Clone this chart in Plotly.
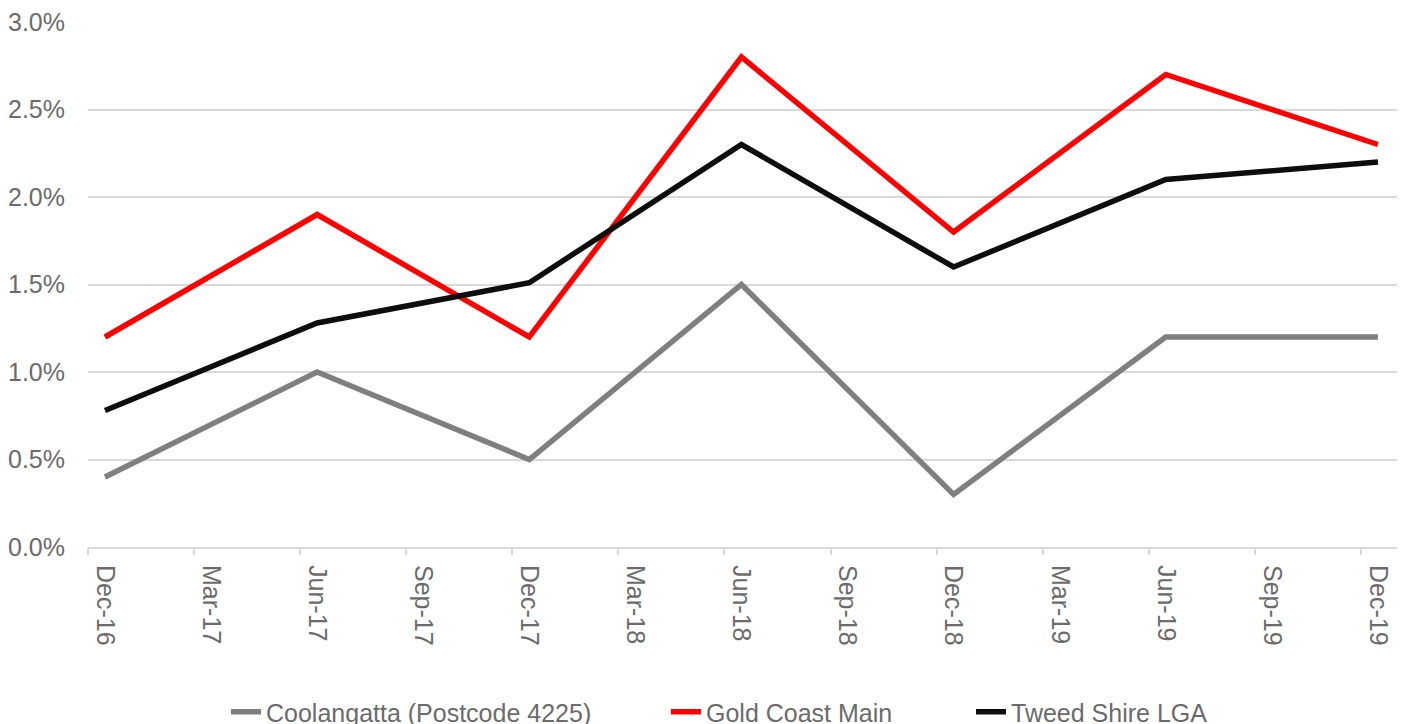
import plotly.graph_objects as go

# Quarterly periods shown on the category axis
quarters = ["Dec-16", "Mar-17", "Jun-17", "Sep-17", "Dec-17", "Mar-18", "Jun-18",
            "Sep-18", "Dec-18", "Mar-19", "Jun-19", "Sep-19", "Dec-19"]

# Half-yearly observations (None where no value is recorded for the quarter)
coolangatta = [0.4, None, 1.0, None, 0.5, None, 1.5, None, 0.3, None, 1.2, None, 1.2]
gold_coast = [1.2, None, 1.9, None, 1.2, None, 2.8, None, 1.8, None, 2.7, None, 2.3]
tweed = [0.78, None, 1.28, None, 1.51, None, 2.3, None, 1.6, None, 2.1, None, 2.2]

series_names = ["Coolangatta (Postcode 4225)", "Gold Coast Main", "Tweed Shire LGA"]
series_values = [coolangatta, gold_coast, tweed]
series_colors = ["#7f7f7f", "#ff0000", "#0d0d0d"]

y_ticks = [0.0, 0.5, 1.0, 1.5, 2.0, 2.5, 3.0]
y_labels = [f"{v:.1f}%" for v in y_ticks]

text_color = "#6b6b6b"
grid_color = "#d9d9d9"
font_family = "Liberation Sans, Arial, sans-serif"

idx = list(range(len(quarters)))

# Each series gets its own legend so the entries can be spaced out along the bottom
legend_ids = ["legend", "legend2", "legend3"]
legend_text_x = [268, 708, 1013]

fig = go.Figure()
for name, vals, color, lg in zip(series_names, series_values, series_colors, legend_ids):
    fig.add_trace(go.Scatter(
        x=idx, y=vals, name=name, mode="lines", connectgaps=True,
        line=dict(color=color, width=5.5), legend=lg,
    ))

x_range = [-0.16, 12.18]
tick_offset = 0.16

legend_common = dict(
    orientation="h", xanchor="left",
    xref="container", yref="container", y=12 / 724, yanchor="middle",
    font=dict(size=25, color=text_color, family=font_family),
    bgcolor="rgba(0,0,0,0)", borderwidth=0,
)

fig.update_layout(
    width=1403, height=724,
    margin=dict(l=88, r=6, t=22, b=177),
    paper_bgcolor="white", plot_bgcolor="white",
    font=dict(family=font_family, size=25, color=text_color),
    showlegend=True,
    legend=dict(x=(legend_text_x[0] - 42) / 1403, **legend_common),
    legend2=dict(x=(legend_text_x[1] - 42) / 1403, **legend_common),
    legend3=dict(x=(legend_text_x[2] - 42) / 1403, **legend_common),
    xaxis=dict(
        range=x_range, tickmode="array", tickvals=idx, ticktext=quarters,
        tickangle=90, showgrid=False, zeroline=False,
        showline=True, linecolor=grid_color, linewidth=2,
        ticks="", ticklabelstandoff=11,
        tickfont=dict(size=25, color=text_color),
    ),
    # Tick marks sit just left of each category label
    xaxis2=dict(
        range=x_range, overlaying="x", side="bottom",
        tickmode="array", tickvals=[i - tick_offset for i in idx],
        showticklabels=False, ticks="outside", ticklen=7, tickwidth=2,
        tickcolor=grid_color, showgrid=False, zeroline=False, showline=False,
    ),
    yaxis=dict(
        range=[0, 3.0], tickmode="array", tickvals=y_ticks, ticktext=y_labels,
        showgrid=True, gridcolor=grid_color, gridwidth=1.5,
        zeroline=False, showline=False, ticks="",
        ticklabelstandoff=22,
        tickfont=dict(size=25, color=text_color),
    ),
)

# Invisible trace anchoring the tick-mark axis
fig.add_trace(go.Scatter(x=[x_range[0]], y=[None], xaxis="x2", showlegend=False,
                         hoverinfo="skip", mode="lines"))

fig.write_html("out.html")
